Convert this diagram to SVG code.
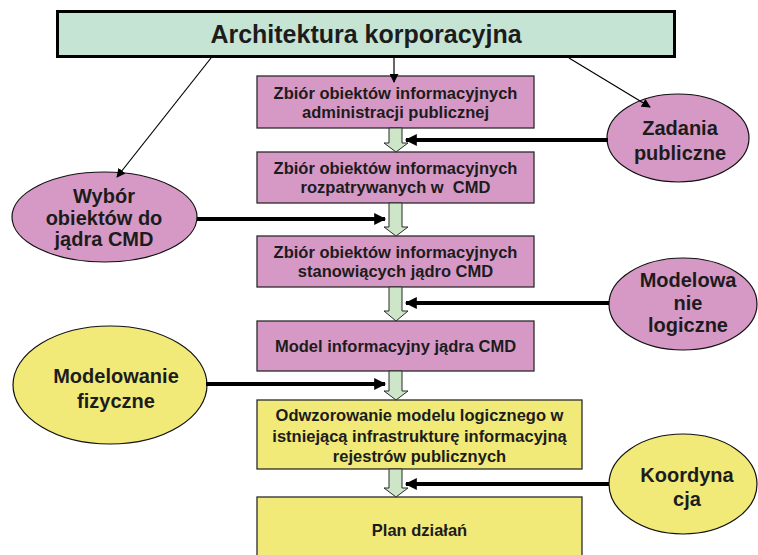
<svg xmlns="http://www.w3.org/2000/svg" width="758" height="555" viewBox="0 0 758 555">
  <style>
    text { font-family: "Liberation Sans", Arial, sans-serif; font-weight: bold; fill: #1c1c1c; text-anchor: middle; }
    .hdr { font-size: 25px; }
    .box { font-size: 16.5px; }
    .ell { font-size: 20px; }
    .pink { fill: #d699c5; }
    .yellow { fill: #f1ea78; }
    .boxframe { stroke: #2b2b2b; stroke-width: 1.3; }
    .ellframe { stroke: #111; stroke-width: 1.2; }
    .thin { stroke: #000; stroke-width: 1.2; fill: none; }
    .thick { stroke: #000; stroke-width: 4; fill: none; }
    .flow { fill: #cde6c8; stroke: #2b2b2b; stroke-width: 1; }
  </style>
  <defs>
    <marker id="tip-thin" viewBox="0 0 10 10" refX="9" refY="5" markerWidth="9" markerHeight="9" markerUnits="userSpaceOnUse" orient="auto">
      <path d="M0,0 L10,5 L0,10 z" fill="#000"/>
    </marker>
    <marker id="tip-thick" viewBox="0 0 10 10" refX="9" refY="5" markerWidth="14" markerHeight="12" markerUnits="userSpaceOnUse" orient="auto">
      <path d="M0,0 L10,5 L0,10 z" fill="#000"/>
    </marker>
  </defs>

  <rect width="758" height="555" fill="#ffffff"/>

  <!-- header -->
  <g id="header">
    <rect x="57.5" y="11.5" width="617" height="45" fill="#c6e4d4" stroke="#000" stroke-width="3"/>
    <text class="hdr" x="366" y="43">Architektura korporacyjna</text>
  </g>

  <!-- process steps -->
  <g id="step1">
    <rect class="pink boxframe" x="257" y="76" width="277" height="52"/>
    <text class="box" x="395.5" y="98.5">Zbiór obiektów informacyjnych</text>
    <text class="box" x="395.5" y="117.5">administracji publicznej</text>
  </g>
  <g id="step2">
    <rect class="pink boxframe" x="257" y="152" width="277" height="51"/>
    <text class="box" x="395.5" y="174">Zbiór obiektów informacyjnych</text>
    <text class="box" x="395.5" y="193" xml:space="preserve">rozpatrywanych w  CMD</text>
  </g>
  <g id="step3">
    <rect class="pink boxframe" x="257" y="236" width="277" height="51"/>
    <text class="box" x="395.5" y="258">Zbiór obiektów informacyjnych</text>
    <text class="box" x="395.5" y="277">stanowiących jądro CMD</text>
  </g>
  <g id="step4">
    <rect class="pink boxframe" x="257" y="321" width="277" height="50"/>
    <text class="box" x="395.5" y="352">Model informacyjny jądra CMD</text>
  </g>
  <g id="step5">
    <rect class="yellow boxframe" x="257" y="400" width="325" height="69"/>
    <text class="box" x="419.5" y="421">Odwzorowanie modelu logicznego w</text>
    <text class="box" x="419.5" y="441.5">istniejącą infrastrukturę informacyjną</text>
    <text class="box" x="419.5" y="462">rejestrów publicznych</text>
  </g>
  <g id="step6">
    <rect class="yellow boxframe" x="257" y="497" width="325" height="70"/>
    <text class="box" x="419.5" y="536">Plan działań</text>
  </g>

  <!-- side inputs -->
  <g id="zadania">
    <ellipse class="pink ellframe" cx="678" cy="138" rx="71" ry="44"/>
    <text class="ell" x="680" y="135">Zadania</text>
    <text class="ell" x="680" y="160">publiczne</text>
  </g>
  <g id="wybor">
    <ellipse class="pink ellframe" cx="104.5" cy="217" rx="92.5" ry="45"/>
    <text class="ell" x="104" y="203">Wybór</text>
    <text class="ell" x="104" y="224.5">obiektów do</text>
    <text class="ell" x="104" y="246">jądra CMD</text>
  </g>
  <g id="modelowanie-logiczne">
    <ellipse class="pink ellframe" cx="683" cy="304" rx="74" ry="46"/>
    <text class="ell" x="688" y="287">Modelowa</text>
    <text class="ell" x="688" y="310">nie</text>
    <text class="ell" x="688" y="332">logiczne</text>
  </g>
  <g id="modelowanie-fizyczne">
    <ellipse class="yellow ellframe" cx="110" cy="385" rx="97" ry="59"/>
    <text class="ell" x="116" y="383">Modelowanie</text>
    <text class="ell" x="116" y="408">fizyczne</text>
  </g>
  <g id="koordynacja">
    <ellipse class="yellow ellframe" cx="683" cy="484" rx="74" ry="50"/>
    <text class="ell" x="687" y="482">Koordyna</text>
    <text class="ell" x="687" y="506">cja</text>
  </g>

  <!-- connectors -->
  <g id="connectors">
    <!-- hollow flow arrows between steps -->
    <path class="flow" d="M389,128 H402 V143 H408 L396,152 L384,143 H389 Z"/>
    <path class="flow" d="M389,203 H402 V227 H408 L396,236 L384,227 H389 Z"/>
    <path class="flow" d="M389,287 H402 V311 H408 L396,321 L384,311 H389 Z"/>
    <path class="flow" d="M389,371 H402 V391 H408 L396,400 L384,391 H389 Z"/>
    <path class="flow" d="M389,469 H402 V488 H408 L396,497 L384,488 H389 Z"/>

    <!-- thin lines from the header -->
    <line class="thin" x1="211" y1="58" x2="117" y2="177" marker-end="url(#tip-thin)"/>
    <line class="thin" x1="394" y1="58" x2="394" y2="82" marker-end="url(#tip-thin)"/>
    <line class="thin" x1="569" y1="58" x2="650" y2="107" marker-end="url(#tip-thin)"/>

    <!-- thick input arrows -->
    <line class="thick" x1="608" y1="140" x2="406" y2="140" marker-end="url(#tip-thick)"/>
    <line class="thick" x1="197" y1="219" x2="385" y2="219" marker-end="url(#tip-thick)"/>
    <line class="thick" x1="609" y1="303" x2="406" y2="303" marker-end="url(#tip-thick)"/>
    <line class="thick" x1="206" y1="384" x2="385" y2="384" marker-end="url(#tip-thick)"/>
    <line class="thick" x1="609" y1="484" x2="406" y2="484" marker-end="url(#tip-thick)"/>
  </g>
</svg>
